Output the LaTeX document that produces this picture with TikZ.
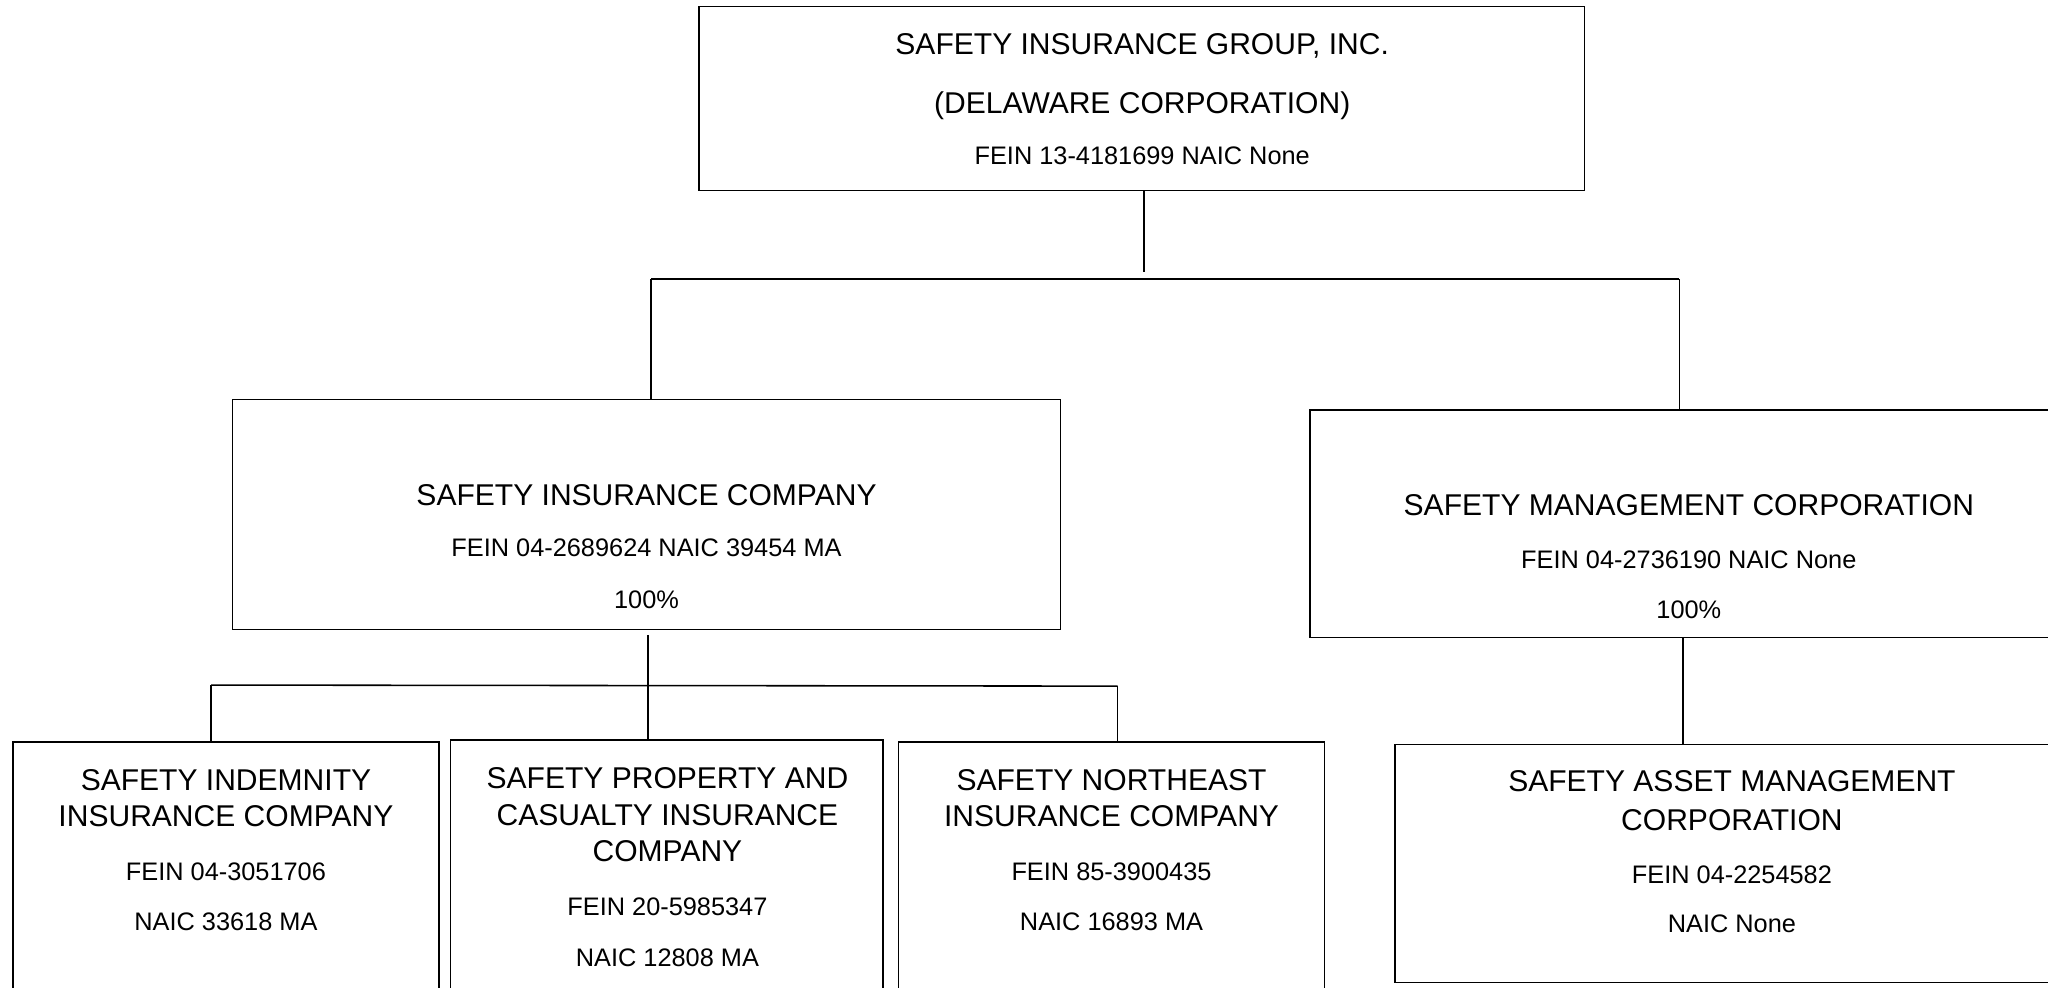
\documentclass[tikz,border=0pt]{standalone}
\usepackage{fontspec}
\setmainfont{Liberation Sans}
\usetikzlibrary{fit}
\begin{document}
\begin{tikzpicture}[x=0.5pt,y=-0.5pt,
  box/.style={draw, line width=0.55pt, inner sep=0pt, rectangle},
  big/.style={anchor=base, inner sep=0pt, font=\fontsize{11.5}{13}\selectfont},
  small/.style={anchor=base, inner sep=0pt, font=\fontsize{9.7}{11}\selectfont},
  conn/.style={draw, line width=0.6pt}]
\useasboundingbox (0,0) rectangle (1568,756);
\clip (0,0) rectangle (1568,756);
\fill[white] (0,0) rectangle (1568,756);

% boxes
\node[box, fit={(535,5) (1213,146)}] (sig) {};
\node[box, fit={(178,306) (812,482)}] (sic) {};
\node[box, fit={(1003,314) (1583,488)}] (smc) {};
\node[box, fit={(10,568) (336,775)}] (sii) {};
\node[box, fit={(345,566.6) (676,775)}] (spc) {};
\node[box, fit={(688,568) (1014,775)}] (sni) {};
\node[box, fit={(1068,570) (1583,752.4)}] (sam) {};

% texts
\node[big] (t1a) at (874.5,42) {SAFETY INSURANCE GROUP, INC.};
\node[big] (t1b) at (874.5,87) {(DELAWARE CORPORATION)};
\node[small] (t1c) at (874.5,126) {FEIN 13-4181699 NAIC None};

\node[big] (t2a) at (495,386.7) {SAFETY INSURANCE COMPANY};
\node[small] (t2b) at (495,426) {FEIN 04-2689624 NAIC 39454 MA};
\node[small] (t2c) at (495,466) {100\%};

\node[big] (t3a) at (1293,394.3) {SAFETY MANAGEMENT CORPORATION};
\node[small] (t3b) at (1293,435) {FEIN 04-2736190 NAIC None};
\node[small] (t3c) at (1293,473.5) {100\%};

\node[big] (t4a) at (173,605) {SAFETY INDEMNITY};
\node[big] (t4b) at (173,633) {INSURANCE COMPANY};
\node[small] (t4c) at (173,674) {FEIN 04-3051706};
\node[small] (t4d) at (173,712.6) {NAIC 33618 MA};

\node[big] (t5a) at (511,603.6) {SAFETY PROPERTY AND};
\node[big] (t5b) at (511,631.7) {CASUALTY INSURANCE};
\node[big] (t5c) at (511,659.8) {COMPANY};
\node[small] (t5d) at (511,700.6) {FEIN 20-5985347};
\node[small] (t5e) at (511,740) {NAIC 12808 MA};

\node[big] (t6a) at (851,605) {SAFETY NORTHEAST};
\node[big] (t6b) at (851,633) {INSURANCE COMPANY};
\node[small] (t6c) at (851,674) {FEIN 85-3900435};
\node[small] (t6d) at (851,712.6) {NAIC 16893 MA};

\node[big] (t7a) at (1326,606) {SAFETY ASSET MANAGEMENT};
\node[big] (t7b) at (1326,635.5) {CORPORATION};
\node[small] (t7c) at (1326,676.4) {FEIN 04-2254582};
\node[small] (t7d) at (1326,714) {NAIC None};

% connectors
\coordinate (top1) at (876,208);
\coordinate (barL) at (498.5,213.5);
\coordinate (barR) at (1285.8,213.5);
\draw[conn] (sig.south -| top1) -- (top1);
\draw[conn] (barL) -- (barR);
\draw[conn] (barL) -- (barL |- sic.north);
\draw[conn] (barR) -- (barR |- smc.north);

\coordinate (mid2) at (496.3,524.8);
\coordinate (bar2L) at (161.6,524.5);
\coordinate (bar2R) at (855.6,525.3);
\draw[conn] (sic.south -| mid2) ++(0,3.5) -- (mid2 |- spc.north);
\draw[conn] (bar2L) -- (bar2R);
\draw[conn] (bar2L) -- (bar2L |- sii.north);
\draw[conn] (bar2R) -- (bar2R |- sni.north);

\coordinate (mid3) at (1288.7,486);
\draw[conn] (smc.south -| mid3) -- (mid3 |- sam.north);
\end{tikzpicture}
\end{document}
